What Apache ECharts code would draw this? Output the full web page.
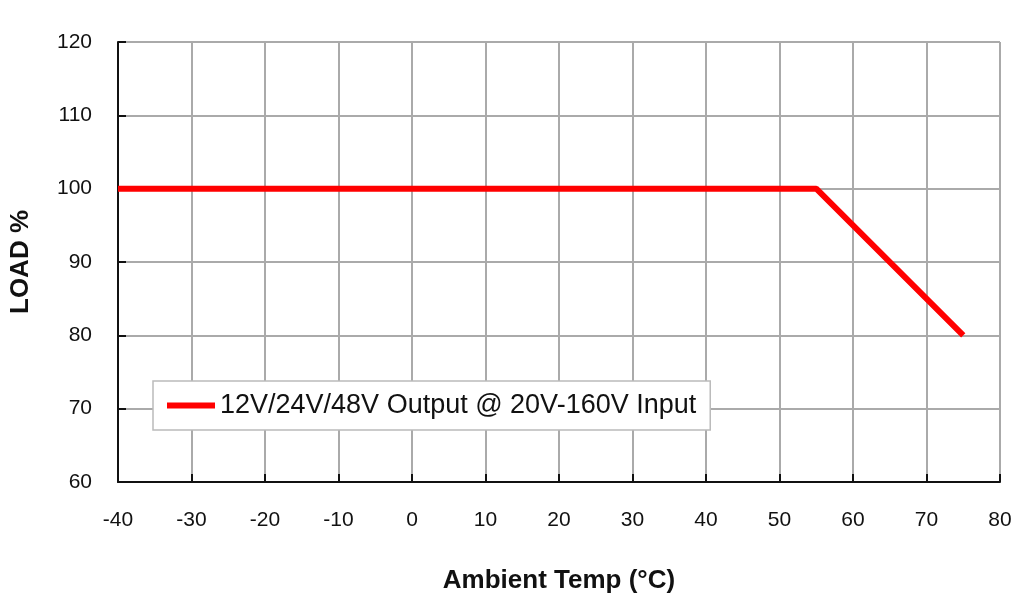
<!DOCTYPE html>
<html lang="en">
<head>
    <meta charset="UTF-8">
    <script src="https://cdn.jsdelivr.net/npm/echarts@6/dist/echarts.min.js"></script>
    <title>Derating</title>
    <style>
        body { margin: 0; background: #fff; }
        #main { width: 1024px; height: 602px; }
    </style>
</head>
<body>
    <div id="main"></div>
    <script>
        // derating curve points (temp, load)
        var temps = [-40, 55, 75];
        var loads = [100, 100, 80];
        var seriesName = '12V/24V/48V Output @ 20V-160V Input';

        var chart = echarts.init(document.getElementById('main'));
        var font = 'Helvetica, Arial, "Liberation Sans", sans-serif';

        var option = {
            animation: false,
            grid: { left: 118, right: 24, top: 42, bottom: 120 },
            legend: {
                left: 153, top: 381,
                padding: [11, 14, 11, 14],
                borderColor: '#bbb', borderWidth: 1.5, borderRadius: 0,
                backgroundColor: '#fff',
                itemWidth: 48, itemHeight: 6,
                icon: 'rect',
                textStyle: { fontSize: 27, color: '#111', fontFamily: font },
                data: [seriesName]
            },
            xAxis: {
                type: 'value', min: -40, max: 80, interval: 10,
                name: 'Ambient Temp (°C)', nameLocation: 'middle', nameGap: 86,
                nameTextStyle: { fontSize: 26, fontWeight: 'bold', color: '#111', fontFamily: font },
                axisLine: { onZero: false, lineStyle: { color: '#111', width: 2 } },
                axisTick: { inside: true, length: 8, lineStyle: { color: '#111', width: 2 } },
                axisLabel: { fontSize: 21, color: '#111', margin: 28, fontFamily: font },
                splitLine: { lineStyle: { color: '#aaa', width: 2 } }
            },
            yAxis: {
                type: 'value', min: 60, max: 120, interval: 10,
                name: 'LOAD %', nameLocation: 'middle', nameGap: 84,
                nameTextStyle: { fontSize: 26, fontWeight: 'bold', color: '#111', fontFamily: font },
                axisLine: { onZero: false, lineStyle: { color: '#111', width: 2 } },
                axisTick: { inside: true, length: 8, lineStyle: { color: '#111', width: 2 } },
                axisLabel: { fontSize: 21, color: '#111', margin: 26, fontFamily: font },
                splitLine: { lineStyle: { color: '#aaa', width: 2 } }
            },
            series: [{
                name: seriesName,
                type: 'line',
                showSymbol: false,
                data: temps.map(function (t, i) { return [t, loads[i]]; }),
                lineStyle: { color: '#ff0000', width: 6 },
                itemStyle: { color: '#ff0000' }
            }]
        };

        chart.setOption(option);
    </script>
</body>
</html>
